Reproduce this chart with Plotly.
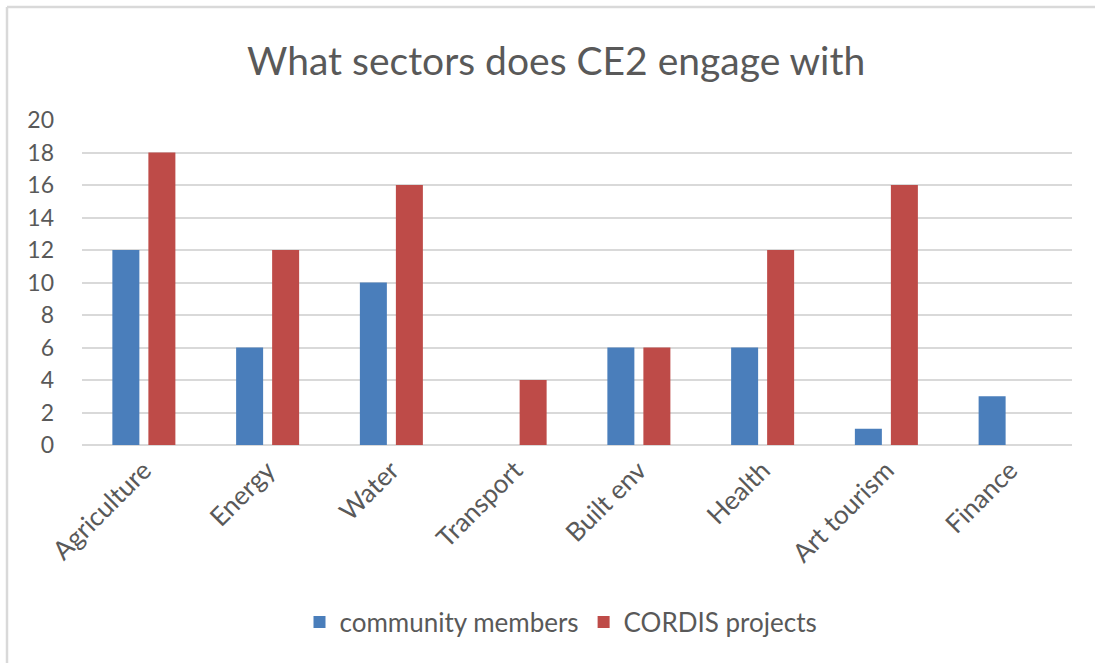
import plotly.graph_objects as go

categories = ["Agriculture", "Energy", "Water", "Transport", "Built env", "Health", "Art tourism", "Finance"]
community_members = [12, 6, 10, 0, 6, 6, 1, 3]
cordis_projects = [18, 12, 16, 4, 6, 12, 16, 0]
y_ticks = list(range(0, 21, 2))

W, H = 1095, 663
L, R, T, B = 82, 23, 120, 218
pw, ph = W - L - R, H - T - B

def px_x(p):
    return (p - L) / pw

def px_y(p):
    return (H - B - p) / ph

FONT = "Lato"
GRAY = "#595959"

fig = go.Figure()
fig.add_trace(go.Bar(x=categories, y=community_members, name="community members",
                     marker=dict(color="#4a7ebb", line=dict(width=0))))
fig.add_trace(go.Bar(x=categories, y=cordis_projects, name="CORDIS projects",
                     marker=dict(color="#be4b48", line=dict(width=0))))

fig.update_layout(
    width=W, height=H,
    margin=dict(l=L, r=R, t=T, b=B, pad=0),
    paper_bgcolor="white", plot_bgcolor="white",
    barmode="group", bargap=0.418, bargroupgap=0.25,
    font=dict(family=FONT, color=GRAY),
    showlegend=True,
    legend=dict(orientation="h", x=px_x(561), xanchor="center", y=px_y(622), yanchor="middle",
                font=dict(size=26, family=FONT, color=GRAY), itemwidth=30, traceorder="normal"),
    xaxis=dict(showgrid=False, showline=False, ticks="", tickangle=-45,
               ticklabelstandoff=4,
               tickfont=dict(size=26, family=FONT, color=GRAY)),
    yaxis=dict(range=[0, 20], tickvals=y_ticks, showgrid=True, gridcolor="#d9d9d9", gridwidth=1.5,
               zeroline=True, zerolinecolor="#d9d9d9", zerolinewidth=1.5, showline=False, ticks="",
               ticklabelstandoff=27,
               tickfont=dict(size=23, family=FONT, color=GRAY)),
    annotations=[dict(text="What sectors does CE2 engage with", x=px_x(556), y=px_y(60),
                      xref="paper", yref="paper", xanchor="center", yanchor="middle",
                      showarrow=False, font=dict(size=39, family=FONT, color=GRAY))],
    shapes=[
        dict(type="line", xref="paper", yref="paper", x0=px_x(7), x1=px_x(1200), y0=px_y(7), y1=px_y(7),
             line=dict(color="#d9d9d9", width=2.5)),
        dict(type="line", xref="paper", yref="paper", x0=px_x(7), x1=px_x(7), y0=px_y(7), y1=px_y(800),
             line=dict(color="#d9d9d9", width=2.5)),
    ],
)

fig.write_html("out.html")
